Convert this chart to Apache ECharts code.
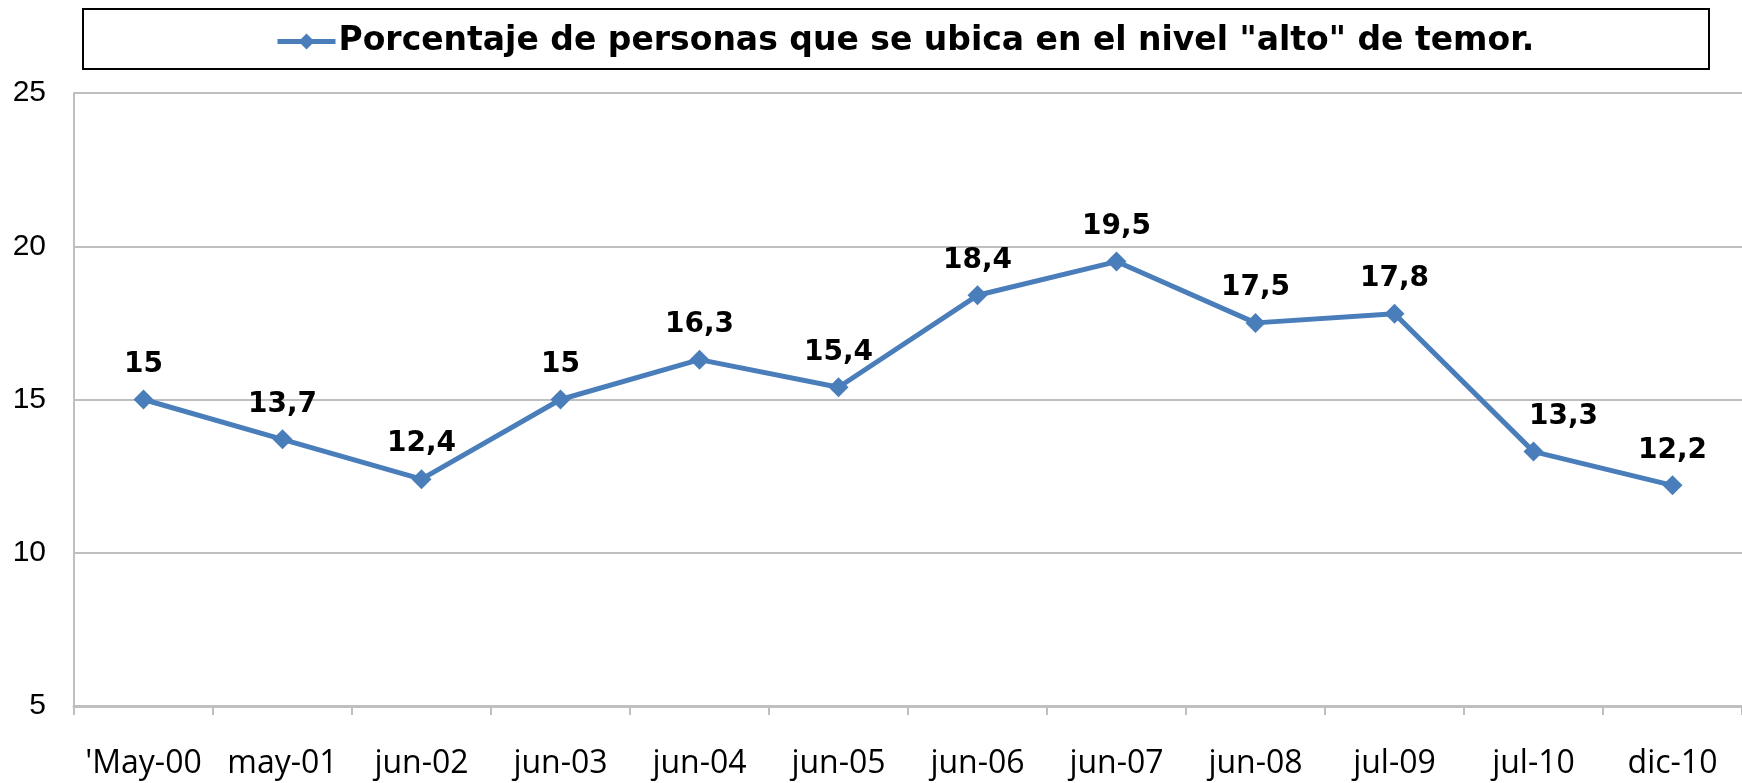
<!DOCTYPE html>
<html>
<head>
<meta charset="utf-8">
<script src="https://cdn.jsdelivr.net/npm/echarts@6/dist/echarts.min.js"></script>
<style>
  html,body{margin:0;padding:0;background:#fff;}
  #chart{width:1742px;height:783px;}
</style>
</head>
<body>
<div id="chart"></div>
<script>
"use strict";

// data
var categories=["'May-00","may-01","jun-02","jun-03","jun-04","jun-05","jun-06","jun-07","jun-08","jul-09","jul-10","dic-10"];
var values=[15,13.7,12.4,15,16.3,15.4,18.4,19.5,17.5,17.8,13.3,12.2];
var yTicks={min:5,max:25,interval:5};
var seriesName='Porcentaje de personas que se ubica en el nivel "alto" de temor.';

var blue='#4a7ebb';
var grey='#bfbfbf';

// the 13,3 label sits a bit to the right of its point
var seriesData=values.map(function(v,i){
  var item={value:v};
  if (i===10) item.label={offset:[30,0]};
  return item;
});

var chart=echarts.init(document.getElementById('chart'));
chart.setOption({
  animation:false,
  backgroundColor:'#fff',
  graphic:[{
    type:'rect',
    shape:{x:83,y:9,width:1626,height:60},
    style:{fill:'#fff',stroke:'#000',lineWidth:2},
    z:-1
  }],
  legend:{
    data:[seriesName],
    left:270,
    top:20,
    itemWidth:58,
    itemHeight:20,
    itemGap:0,
    lineStyle:{width:5},
    textStyle:{fontFamily:'DejaVu Sans',fontWeight:'bold',fontSize:33,color:'#000',padding:[0,0,0,-2]}
  },
  grid:{left:74,right:-6,top:93,bottom:77,containLabel:false},
  xAxis:{
    type:'category',
    data:categories,
    boundaryGap:true,
    axisLine:{lineStyle:{color:grey,width:3}},
    axisTick:{show:true,interval:0,length:9,lineStyle:{color:grey,width:2}},
    axisLabel:{interval:0,margin:42,fontFamily:'Open Sans',fontSize:32,color:'#000'}
  },
  yAxis:{
    type:'value',
    min:yTicks.min,
    max:yTicks.max,
    interval:yTicks.interval,
    axisLine:{show:true,lineStyle:{color:grey,width:2}},
    axisTick:{show:false},
    splitLine:{lineStyle:{color:grey,width:2}},
    axisLabel:{margin:28,fontFamily:'Liberation Sans',fontSize:30,color:'#000'}
  },
  series:[{
    name:seriesName,
    type:'line',
    data:seriesData,
    symbol:'diamond',
    symbolSize:20,
    lineStyle:{color:blue,width:5},
    itemStyle:{color:blue},
    label:{
      show:true,
      position:'top',
      distance:11,
      fontFamily:'DejaVu Sans',
      fontWeight:'bold',
      fontSize:28,
      color:'#000',
      formatter:function(p){return String(p.value).replace('.',',');}
    }
  }]
});
</script>
</body>
</html>
